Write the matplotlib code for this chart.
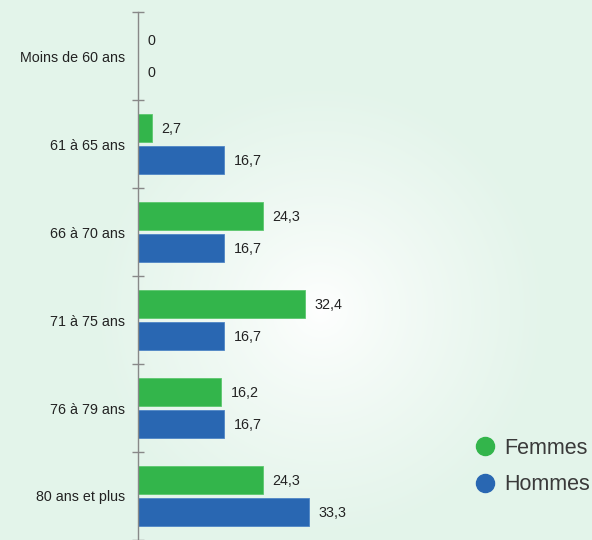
import numpy as np
import matplotlib
matplotlib.use("Agg")
import matplotlib.pyplot as plt
from matplotlib.lines import Line2D

categories = ["Moins de 60 ans", "61 à 65 ans", "66 à 70 ans", "71 à 75 ans", "76 à 79 ans", "80 ans et plus"]
femmes = [0, 2.7, 24.3, 32.4, 16.2, 24.3]
hommes = [0, 16.7, 16.7, 16.7, 16.7, 33.3]
series_names = ["Femmes", "Hommes"]

GREEN = "#33b54b"
BLUE = "#2967b2"
BG = np.array([0xe3, 0xf4, 0xea]) / 255.0

plt.rcParams['font.family'] = ['Liberation Sans', 'DejaVu Sans']

W, H = 592, 540
fig = plt.figure(figsize=(W / 100, H / 100), dpi=100)

# background radial gradient
bg = fig.add_axes([0, 0, 1, 1], zorder=-10)
yy, xx = np.mgrid[0:H, 0:W]
d = np.hypot(xx - 320, yy - 310)
t = np.clip(d / 230.0, 0, 1) ** 0.8
img = (1 - t)[..., None] * np.ones(3) + t[..., None] * BG
bg.imshow(img, extent=[0, W, H, 0], aspect='auto')
bg.set_xlim(0, W)
bg.set_ylim(H, 0)
bg.axis('off')

left = 138 / W
top = (H - 12) / H
px_per_unit = 5.14
right_px = 560
ax = fig.add_axes([left, 0, (right_px - 138) / W, top])
ax.patch.set_alpha(0)
ax.set_xlim(0, (right_px - 138) / px_per_unit)
n = len(categories)
ax.set_ylim(n - 0.5, -0.5)

y = np.arange(n)
h = 28 / 88
off = 16 / 88
bf = ax.barh(y - off, femmes, height=h, color=GREEN, edgecolor="#5cc76e", linewidth=0.6)
bh = ax.barh(y + off, hommes, height=h, color=BLUE, edgecolor="#4f86c6", linewidth=0.6)

for rects, vals in ((bf, femmes), (bh, hommes)):
    for r, v in zip(rects, vals):
        ax.annotate(f"{v:g}".replace(".", ","), (v, r.get_y() + r.get_height() / 2),
                    xytext=(7, -1), textcoords='offset points', va='center', ha='left',
                    fontsize=10.3, color="#222222")

for s in ("top", "right", "bottom"):
    ax.spines[s].set_visible(False)
ax.spines['left'].set_color("#888888")
ax.spines['left'].set_linewidth(1.0)
ax.set_xticks([])
ax.set_yticks(y)
ax.set_yticklabels(categories, fontsize=10.3, color="#222222")
ax.tick_params(axis='y', which='major', length=0, pad=9)
ax.set_yticks(np.arange(n + 1) - 0.5, minor=True)
ax.tick_params(axis='y', which='minor', length=9, direction='inout', color="#888888", width=1.0)

handles = [Line2D([], [], marker='o', linestyle='', markersize=13, color=c) for c in (GREEN, BLUE)]
fig.legend(handles, series_names, loc='upper left', bbox_to_anchor=(472 / W, 1 - 438 / H),
           frameon=False, fontsize=15.5, labelcolor="#3a3a3a", handletextpad=0.3,
           handlelength=1.2, labelspacing=0.72, borderaxespad=0, borderpad=0)

fig.savefig("out.png", dpi=100)
